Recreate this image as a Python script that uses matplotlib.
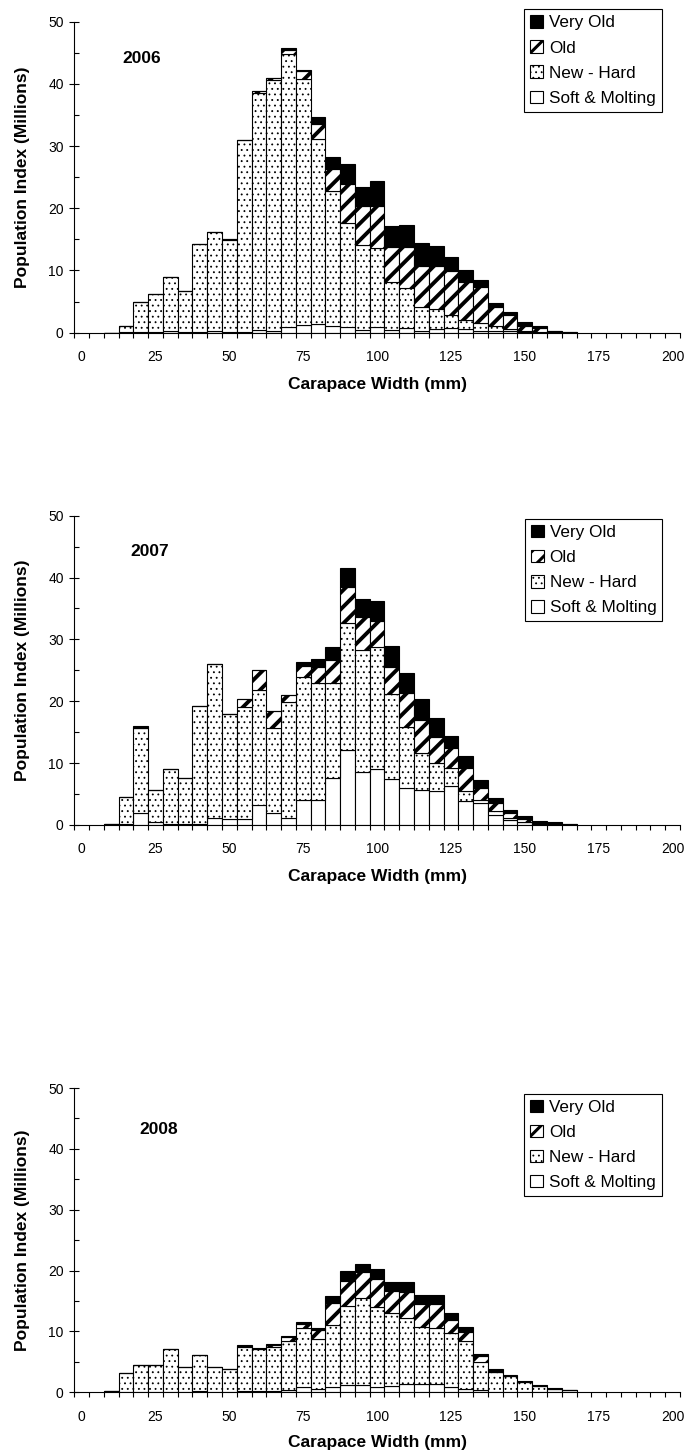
import numpy as np
import matplotlib
matplotlib.use("Agg")
import matplotlib.pyplot as plt

plt.rcParams['font.family'] = ['Liberation Sans', 'DejaVu Sans']

# carapace width classes (mm) that have bars, and the category axis labels
sizes = [10, 15, 20, 25, 30, 35, 40, 45, 50, 55, 60, 65, 70, 75, 80, 85,
         90, 95, 100, 105, 110, 115, 120, 125, 130, 135, 140, 145, 150, 155, 160, 165]
tick_labels = [0, 25, 50, 75, 100, 125, 150, 175, 200]
series_names = ['Very Old', 'Old', 'New - Hard', 'Soft & Molting']

# 2006
soft06 = [0, 0.05, 0.05, 0.05, 0.2, 0.05, 0.1, 0.3, 0.1, 0.1, 0.5, 0.3, 0.9, 1.3, 1.45, 1.0,
          0.85, 0.5, 0.85, 0.5, 0.75, 0.3, 0.65, 0.8, 0.6, 0.3, 0.3, 0.2, 0.1, 0.05, 0, 0]
new06 = [0, 1.05, 4.85, 6.25, 8.7, 6.65, 14.1, 15.9, 14.85, 30.9, 38.0, 40.4, 43.9, 39.5, 29.65, 21.8,
         16.75, 13.6, 12.75, 7.7, 6.45, 3.8, 3.15, 2.1, 1.4, 1.2, 0.8, 0.4, 0.2, 0.1, 0.05, 0.02]
old06 = [0, 0, 0, 0, 0, 0, 0, 0, 0.15, 0, 0.3, 0.2, 0.7, 1.2, 2.4, 3.5,
         6.3, 6.2, 6.7, 5.5, 6.5, 6.6, 6.9, 7.0, 6.2, 5.9, 3.1, 2.2, 0.8, 0.55, 0.2, 0.08]
vold06 = [0, 0, 0, 0, 0, 0, 0, 0, 0, 0, 0.1, 0, 0.2, 0.2, 1.2, 1.9,
          3.3, 3.2, 4.1, 3.4, 3.6, 3.7, 3.3, 2.2, 1.9, 1.1, 0.6, 0.6, 0.6, 0.3, 0.1, 0.05]

# 2007
soft07 = [0, 0.1, 2.0, 0.5, 0.2, 0.1, 0.1, 1.1, 0.9, 0.9, 3.3, 2.0, 1.1, 4.0, 4.0, 7.6,
          12.2, 8.5, 9.0, 7.5, 5.9, 5.7, 5.5, 6.3, 3.9, 3.5, 1.6, 0.8, 0.4, 0.2, 0.1, 0.02]
new07 = [0.15, 4.4, 13.7, 5.2, 8.9, 7.5, 19.1, 24.9, 17.0, 18.2, 18.6, 13.6, 18.8, 20.0, 18.9, 15.3,
         20.5, 19.8, 19.7, 13.7, 9.9, 5.9, 4.6, 2.9, 1.6, 0.5, 0.6, 0.4, 0.15, 0.1, 0.1, 0.03]
old07 = [0, 0, 0, 0, 0, 0, 0, 0, 0, 1.2, 3.1, 2.9, 1.1, 1.75, 2.7, 3.8,
         5.8, 5.4, 4.3, 4.4, 5.5, 5.4, 4.2, 3.2, 3.7, 1.9, 1.3, 0.7, 0.45, 0.15, 0.15, 0.05]
vold07 = [0, 0, 0.3, 0, 0, 0, 0, 0, 0, 0, 0, 0, 0, 0.55, 1.2, 2.1,
          3.1, 2.8, 3.2, 3.3, 3.2, 3.3, 3.0, 2.0, 2.0, 1.4, 0.9, 0.5, 0.5, 0.25, 0.15, 0.05]

# 2008
soft08 = [0, 0.05, 0.1, 0.1, 0.1, 0.05, 0.15, 0.1, 0.1, 0.2, 0.2, 0.25, 0.4, 0.8, 0.6, 0.8,
          1.2, 1.2, 0.8, 1.0, 1.4, 1.4, 1.3, 0.9, 0.5, 0.3, 0.1, 0.1, 0.05, 0.05, 0, 0]
new08 = [0.15, 3.05, 4.3, 4.3, 7.0, 4.15, 5.95, 4.1, 3.7, 7.3, 6.85, 7.25, 8.0, 9.7, 8.1, 10.3,
         12.9, 14.3, 13.2, 12.0, 10.8, 9.4, 9.3, 8.8, 7.9, 4.6, 3.3, 2.5, 1.6, 0.9, 0.55, 0.35]
old08 = [0, 0, 0, 0, 0, 0, 0, 0, 0, 0.15, 0, 0.3, 0.75, 0.7, 1.5, 3.6,
         4.2, 4.3, 4.6, 3.7, 4.3, 3.7, 3.9, 2.2, 1.5, 1.0, 0, 0, 0, 0, 0, 0]
vold08 = [0, 0, 0, 0, 0, 0, 0, 0, 0, 0.15, 0.15, 0.2, 0.1, 0.4, 0.3, 1.2,
          1.7, 1.2, 1.6, 1.4, 1.6, 1.5, 1.5, 1.1, 0.8, 0.4, 0.4, 0.25, 0.25, 0.2, 0.1, 0.05]

years = ['2006', '2007', '2008']
panels = [(soft06, new06, old06, vold06),
          (soft07, new07, old07, vold07),
          (soft08, new08, old08, vold08)]

# axes boxes in figure fractions [left, bottom, width, height]
boxes = [[0.1078, 0.7715, 0.879, 0.2136],
         [0.1078, 0.4334, 0.879, 0.2124],
         [0.1078, 0.0438, 0.879, 0.2089]]
year_pos = [(0.079, 0.883), (0.092, 0.884), (0.107, 0.865)]
legend_anchor = [(0.743, 1.04), (0.744, 0.99), (0.743, 0.982)]


def set_hatch_lw(patches, lw):
    for p in patches:
        if hasattr(p, 'set_hatch_linewidth'):
            p.set_hatch_linewidth(lw)


fig = plt.figure(figsize=(6.89, 14.56), dpi=100)

for i, (soft, new, old, vold) in enumerate(panels):
    ax = fig.add_axes(boxes[i])
    x = np.array(sizes)
    soft = np.array(soft)
    new = np.array(new)
    old = np.array(old)
    vold = np.array(vold)

    b_soft = ax.bar(x, soft, width=5, color='white', edgecolor='black', linewidth=0.8,
                    label='Soft & Molting')
    b_new = ax.bar(x, new, width=5, bottom=soft, color='white', edgecolor='black',
                   linewidth=0.8, hatch='...', label='New - Hard')
    b_old = ax.bar(x, old, width=5, bottom=soft + new, color='white', edgecolor='black',
                   linewidth=0.8, hatch='//', label='Old')
    b_vold = ax.bar(x, vold, width=5, bottom=soft + new + old, color='black',
                    edgecolor='black', linewidth=0.8, label='Very Old')
    set_hatch_lw(b_old, 2.8)
    set_hatch_lw(b_new, 0.6)

    ax.set_xlim(-2.5, 202.5)
    ax.set_ylim(0, 50)
    ax.spines['top'].set_visible(False)
    ax.spines['right'].set_visible(False)
    ax.spines['left'].set_linewidth(0.8)
    ax.spines['bottom'].set_linewidth(0.8)

    ax.set_xticks(tick_labels)
    ax.set_xticklabels([str(t) for t in tick_labels])
    ax.set_xticks(np.arange(-2.5, 203, 5), minor=True)
    ax.tick_params(axis='x', which='major', length=0, pad=12.5, labelsize=10)
    ax.tick_params(axis='x', which='minor', length=3.6, direction='out', width=0.8)

    ax.set_yticks(np.arange(0, 51, 10))
    ax.set_yticks(np.arange(5, 50, 10), minor=True)
    ax.tick_params(axis='y', which='major', direction='inout', length=7.2, width=0.8,
                   pad=4, labelsize=10)
    ax.tick_params(axis='y', which='minor', direction='in', length=3.6, width=0.8)

    ax.set_xlabel('Carapace Width (mm)', fontsize=12.5, fontweight='bold')
    ax.set_ylabel('Population Index (Millions)', fontsize=12.5, fontweight='bold')
    ax.xaxis.set_label_coords(0.5, -0.142)
    ax.yaxis.set_label_coords(-0.073, 0.5)

    ax.text(year_pos[i][0], year_pos[i][1], years[i], transform=ax.transAxes,
            fontsize=12.5, fontweight='bold', ha='left', va='center')

    handles = [b_vold, b_old, b_new, b_soft]
    leg = ax.legend(handles, series_names, loc='upper left', bbox_to_anchor=legend_anchor[i],
                    fontsize=12.3, frameon=True, fancybox=False, edgecolor='black',
                    framealpha=1, handlelength=0.75, handleheight=0.75, handletextpad=0.35,
                    labelspacing=0.58, borderpad=0.35, borderaxespad=0)
    leg.get_frame().set_linewidth(0.8)
    set_hatch_lw([leg.legend_handles[1]], 2.2)
    set_hatch_lw([leg.legend_handles[2]], 0.6)

fig.savefig('out.png', dpi=100)
